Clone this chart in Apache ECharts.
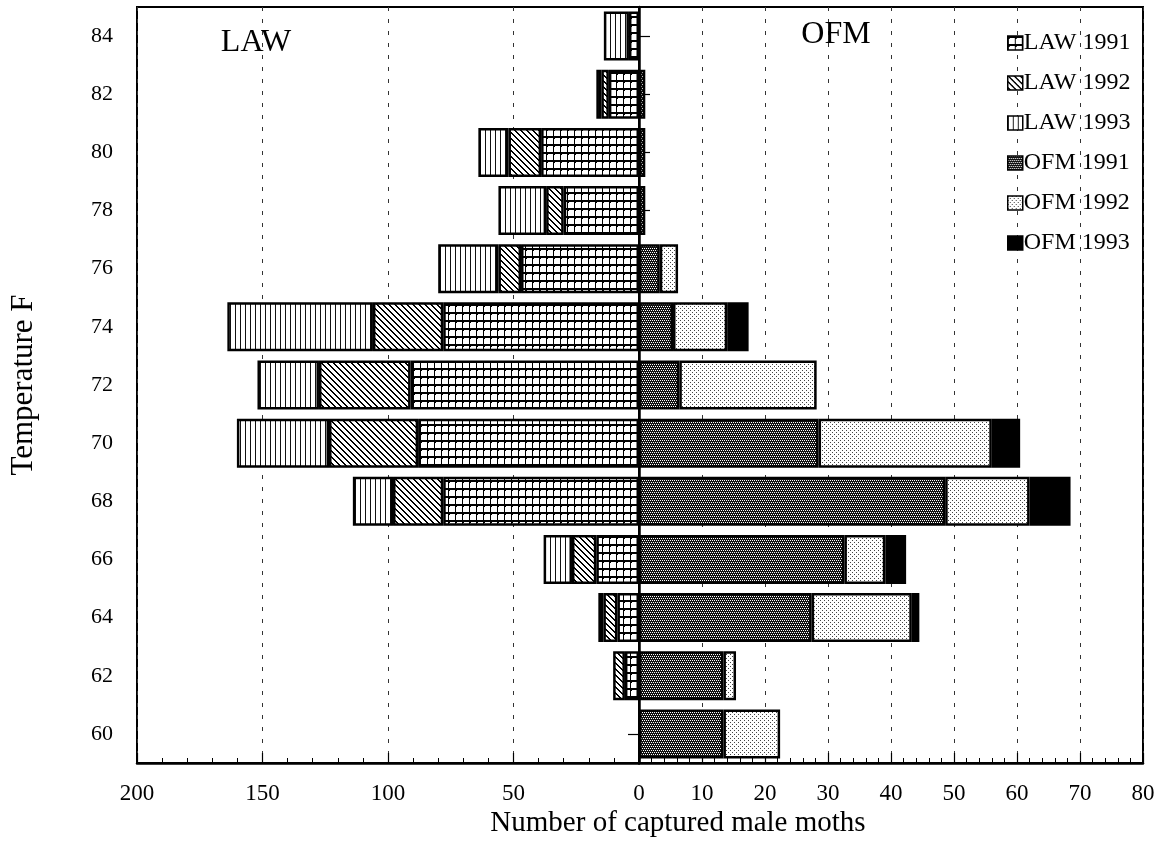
<!DOCTYPE html>
<html><head><meta charset="utf-8">
<script src="https://cdn.jsdelivr.net/npm/echarts@6/dist/echarts.min.js"></script>
<style>html,body{margin:0;padding:0;background:#fff}#c{width:1161px;height:844px}</style>
</head><body><div id="c"></div>
<script>
// Categories (temperature F), bottom to top
const temps = ['60','62','64','66','68','70','72','74','76','78','80','82','84'];
// LAW counts (left side)
const law1991 = [null, 5.6, 8.6, 17, 78, 88, 91, 78, 47, 30, 39, 12, 4];
const law1992 = [null, 4.7, 5.6, 9.7, 20, 35.5, 36.5, 28, 9, 7, 13, 3, null];
const law1993 = [null, null, 2, 11.3, 16, 36.7, 24.5, 58, 24, 19, 12, 2, 10];
// OFM counts (right side)
const ofm1991 = [13.4, 13.4, 27.4, 32.6, 48.6, 28.5, 6.4, 5.4, 3.3, 1, 1, 1, null];
const ofm1992 = [9, 2, 15.9, 6.5, 13.4, 27.5, 21.8, 8.6, 2.9, null, null, null, null];
const ofm1993 = [null, null, 1.2, 3.3, 6.5, 4.5, null, 3.4, null, null, null, null, null];
// Axis ranges / tick steps
const lawMax = 200, lawStep = 50;
const ofmMax = 80, ofmStep = 10;
const seriesNames = ['LAW 1991','LAW 1992','LAW 1993','OFM 1991','OFM 1992','OFM 1993'];

const FONT = '"Liberation Serif", "Times New Roman", serif';

function tile(w, h, draw) {
  const c = document.createElement('canvas');
  c.width = w; c.height = h;
  const g = c.getContext('2d');
  g.fillStyle = '#fff'; g.fillRect(0, 0, w, h);
  draw(g);
  return { image: c, repeat: 'repeat' };
}
const pGrid = tile(7, 8, g => { g.fillStyle = '#000'; g.fillRect(0, 0, 7, 2); g.fillRect(0, 0, 1, 8); g.fillRect(0, 0, 2, 3); });
const pDiag = tile(6, 6, g => { g.fillStyle = '#000'; for (let i = 0; i < 6; i++) { g.fillRect(i, i, 1, 1); g.fillRect((i + 1) % 6, i, 1, 1); } });
const pVert = tile(5, 2, g => { g.fillStyle = '#111'; g.fillRect(0, 0, 1, 2); });
const pDark = tile(4, 4, g => { g.fillStyle = '#111'; g.fillRect(0, 0, 4, 4); g.fillStyle = '#fff'; g.fillRect(0, 0, 1, 1); g.fillRect(2, 0, 1, 1); g.fillRect(1, 2, 1, 1); g.fillRect(3, 2, 1, 1); });
const pLight = tile(4, 4, g => { g.fillStyle = '#444'; g.fillRect(0, 0, 1, 1); g.fillRect(2, 2, 1, 1); });

const gridLine = { show: true, lineStyle: { color: '#333', width: 1, type: [4, 8] } };

function bar(name, data, pattern, xi, yi, stack) {
  return {
    name, type: 'bar', data, stack, xAxisIndex: xi, yAxisIndex: yi,
    barWidth: 49,
    itemStyle: { color: pattern, borderColor: '#000', borderWidth: 2.5 },
    emphasis: { disabled: true }
  };
}

const chart = echarts.init(document.getElementById('c'), null, { renderer: 'canvas' });
chart.setOption({
  animation: false,
  backgroundColor: '#fff',
  grid: [
    { left: 137, top: 7, width: 502, height: 756, show: true, borderColor: '#000', borderWidth: 2, backgroundColor: 'transparent', containLabel: false },
    { left: 639, top: 7, width: 504, height: 756, show: true, borderColor: '#000', borderWidth: 2, backgroundColor: 'transparent', containLabel: false }
  ],
  xAxis: [
    { gridIndex: 0, type: 'value', min: 0, max: lawMax, interval: lawStep, inverse: true,
      axisLine: { show: true, lineStyle: { color: '#000', width: 2.5 } },
      axisTick: { show: true, inside: true, length: 10, lineStyle: { color: '#000', width: 1.2 } },
      minorTick: { show: true, splitNumber: 5, length: 5, lineStyle: { color: '#000', width: 1 } },
      axisLabel: { color: '#000', fontFamily: FONT, fontSize: 23, margin: 19 },
      splitLine: gridLine },
    { gridIndex: 1, type: 'value', min: 0, max: ofmMax, interval: ofmStep,
      axisLine: { show: true, lineStyle: { color: '#000', width: 2.5 } },
      axisTick: { show: true, inside: true, length: 10, lineStyle: { color: '#000', width: 1.2 } },
      minorTick: { show: true, splitNumber: 5, length: 5, lineStyle: { color: '#000', width: 1 } },
      axisLabel: { color: '#000', fontFamily: FONT, fontSize: 23, margin: 19, showMinLabel: false },
      splitLine: gridLine }
  ],
  yAxis: [
    { gridIndex: 0, type: 'category', data: temps, position: 'left',
      axisLine: { show: false }, axisTick: { show: false },
      axisLabel: { color: '#000', fontFamily: FONT, fontSize: 22, margin: 24 },
      name: 'Temperature F', nameLocation: 'middle', nameGap: 98, nameRotate: 90,
      nameTextStyle: { color: '#000', fontFamily: FONT, fontSize: 31 } },
    { gridIndex: 1, type: 'category', data: temps, position: 'left',
      axisLine: { show: true, lineStyle: { color: '#000', width: 2.5 } },
      axisTick: { show: true, inside: true, length: 11, alignWithLabel: true, lineStyle: { color: '#000', width: 1.2 } },
      axisLabel: { show: false } },
    { gridIndex: 0, type: 'category', data: temps, position: 'right',
      axisLine: { show: false },
      axisTick: { show: true, inside: true, length: 11, alignWithLabel: true, lineStyle: { color: '#000', width: 1.2 } },
      axisLabel: { show: false } }
  ],
  legend: {
    orient: 'vertical', left: 1002, top: 26,
    itemWidth: 15, itemHeight: 14, itemGap: 16,
    icon: 'rect',
    itemStyle: { borderColor: '#000', borderWidth: 1.5 },
    textStyle: { color: '#000', fontFamily: FONT, fontSize: 24, lineHeight: 24, padding: [0, 0, 0, -4] },
    selectedMode: false,
    data: seriesNames
  },
  graphic: [
    { type: 'text', x: 256, y: 43, z: 100, style: { text: 'LAW', font: '32px ' + FONT, fill: '#000', textAlign: 'center', textVerticalAlign: 'middle', align: 'center', verticalAlign: 'middle' } },
    { type: 'text', x: 836, y: 35, z: 100, style: { text: 'OFM', font: '32px ' + FONT, fill: '#000', textAlign: 'center', textVerticalAlign: 'middle', align: 'center', verticalAlign: 'middle' } },
    { type: 'text', x: 678, y: 823, z: 100, style: { text: 'Number of captured male moths', font: '29px ' + FONT, fill: '#000', textAlign: 'center', textVerticalAlign: 'middle', align: 'center', verticalAlign: 'middle' } }
  ],
  series: [
    bar(seriesNames[0], law1991, pGrid, 0, 0, 'law'),
    bar(seriesNames[1], law1992, pDiag, 0, 0, 'law'),
    bar(seriesNames[2], law1993, pVert, 0, 0, 'law'),
    bar(seriesNames[3], ofm1991, pDark, 1, 1, 'ofm'),
    bar(seriesNames[4], ofm1992, pLight, 1, 1, 'ofm'),
    bar(seriesNames[5], ofm1993, '#000', 1, 1, 'ofm')
  ]
});
</script>
</body></html>
